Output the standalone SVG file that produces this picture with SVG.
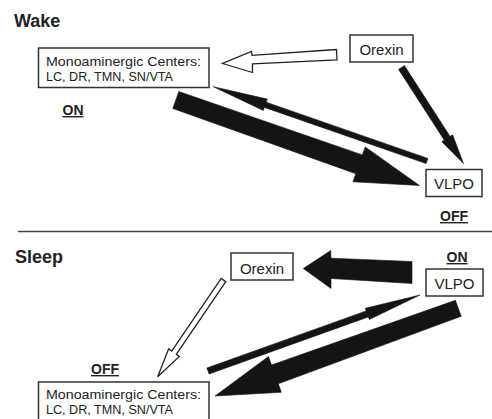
<svg xmlns="http://www.w3.org/2000/svg" width="492" height="419" viewBox="0 0 492 419">
  <style>
    .bg { fill: #ffffff; }
    .box { fill: #ffffff; stroke: #333333; stroke-width: 1.5; }
    .lbl { font-family: "Liberation Sans", Arial, Helvetica, sans-serif; fill: #222222; }
    .title { font-size: 18px; font-weight: bold; }
    .name { font-size: 15px; text-anchor: middle; }
    .small { font-size: 12.5px; }
    .state { font-size: 14px; font-weight: bold; text-anchor: middle; text-decoration: underline; }
    .solid { fill: #141414; stroke: #141414; stroke-width: 0.6; stroke-linejoin: miter; }
    .hollow { fill: #ffffff; stroke: #222222; stroke-width: 1.3; stroke-linejoin: miter; }
    .rule { stroke: #444444; stroke-width: 1.5; }
  </style>

  <rect class="bg" x="0" y="0" width="492" height="419"/>

  <!-- section headings -->
  <text class="lbl title" x="14" y="27">Wake</text>
  <text class="lbl title" x="15" y="263">Sleep</text>
  <line class="rule" x1="18" y1="231.5" x2="492" y2="231.5"/>

  <!-- connectors -->
  <g id="connectors">
    <!-- Wake: orexin excites monoaminergic centers -->
    <polygon class="hollow" points="336.5,49.5 252,55.3 251.5,51.5 222.5,63.5 252.5,72.5 252.5,63.8 337,60"/>
    <!-- Wake: orexin to VLPO -->
    <polygon class="solid" points="404.4,65.6 450.1,136.4 452.6,134.8 463.5,163.5 441.8,141.8 444.3,140.2 398.6,69.4"/>
    <!-- Wake: VLPO to monoaminergic centers (weak) -->
    <polygon class="solid" points="427.9,158.4 266.2,102.2 267.3,99.1 213.3,86.7 263.3,110.5 264.4,107.4 426.1,163.6"/>
    <!-- Wake: monoaminergic centers inhibit VLPO (strong) -->
    <polygon class="solid" points="178.8,91.5 362.4,154.9 365.2,146.9 419.5,185.5 353,181.8 355.8,173.7 172.8,108.5"/>

    <!-- Sleep: VLPO inhibits orexin (strong) -->
    <polygon class="solid" points="412,261.5 331,258.2 330.7,250.5 303.3,268.5 331,288.5 331,278.5 412,283.5"/>
    <!-- Sleep: orexin to monoaminergic centers (weak) -->
    <polygon class="hollow" points="221.2,278.4 171.7,351.1 168.6,349 157.7,376.7 179.4,356.4 176.3,354.3 225.8,281.6"/>
    <!-- Sleep: monoaminergic centers to VLPO (weak) -->
    <polygon class="solid" points="206.9,368 366.2,310.9 365.3,308.3 420,295 369.3,319.5 368.4,316.9 209.1,374"/>
    <!-- Sleep: VLPO inhibits monoaminergic centers (strong) -->
    <polygon class="solid" points="455.4,300.3 271.5,365 268.5,356.5 215,396 281.3,392.3 278.3,383.8 461.2,316.3"/>
  </g>

  <!-- Wake nodes -->
  <g id="wake-mono">
    <rect class="box" x="38.5" y="48" width="170.5" height="39.5"/>
    <text class="lbl small" x="46" y="66" textLength="155" lengthAdjust="spacingAndGlyphs">Monoaminergic Centers:</text>
    <text class="lbl small" x="46" y="81" textLength="127" lengthAdjust="spacingAndGlyphs">LC, DR, TMN, SN/VTA</text>
    <text class="lbl state" x="73" y="115">ON</text>
  </g>
  <g id="wake-orexin">
    <rect class="box" x="350" y="35" width="63" height="27"/>
    <text class="lbl name" x="381.5" y="55">Orexin</text>
  </g>
  <g id="wake-vlpo">
    <rect class="box" x="426" y="169.5" width="56" height="27"/>
    <text class="lbl name" x="454" y="189">VLPO</text>
    <text class="lbl state" x="454" y="221">OFF</text>
  </g>

  <!-- Sleep nodes -->
  <g id="sleep-orexin">
    <rect class="box" x="231" y="253" width="62" height="27"/>
    <text class="lbl name" x="262" y="273.5">Orexin</text>
  </g>
  <g id="sleep-vlpo">
    <text class="lbl state" x="457" y="262">ON</text>
    <rect class="box" x="426" y="269" width="57" height="27"/>
    <text class="lbl name" x="454.5" y="289">VLPO</text>
  </g>
  <g id="sleep-mono">
    <text class="lbl state" x="105" y="374">OFF</text>
    <rect class="box" x="38.5" y="382" width="170.5" height="45"/>
    <text class="lbl small" x="46" y="399" textLength="155" lengthAdjust="spacingAndGlyphs">Monoaminergic Centers:</text>
    <text class="lbl small" x="46" y="414" textLength="127" lengthAdjust="spacingAndGlyphs">LC, DR, TMN, SN/VTA</text>
  </g>
</svg>
